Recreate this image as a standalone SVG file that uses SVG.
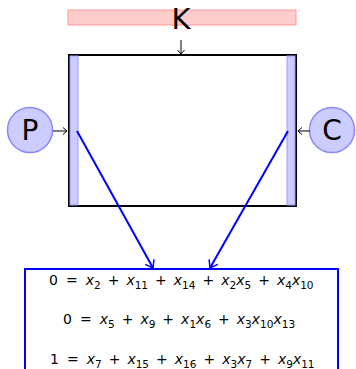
<svg xmlns="http://www.w3.org/2000/svg" width="356" height="369" viewBox="0 0 356 369">
<style>
.lbl{font-family:"DejaVu Sans",sans-serif;fill:#000}
.eq{font-family:"DejaVu Sans",sans-serif;font-size:14px;fill:#000}
.v{font-style:italic}
.s{font-size:10.5px}
.node{fill:#ccccff;stroke:#8888ff;stroke-width:1.5}
.strip{fill:#ccccff;stroke:#9999ff;stroke-width:1}
</style>
<defs>
<marker id="ab" markerUnits="userSpaceOnUse" markerWidth="12" markerHeight="12" refX="0" refY="0" viewBox="-8 -6 10 12" orient="auto" overflow="visible">
<path d="M-7,-5 L0,0 L-7,5" fill="none" stroke="#0000ff" stroke-width="1.5"/>
</marker>
<marker id="ak" markerUnits="userSpaceOnUse" markerWidth="8" markerHeight="8" refX="0" refY="0" viewBox="-5 -4 6 8" orient="auto" overflow="visible">
<path d="M-4,-3.5 L0,0 L-4,3.5" fill="none" stroke="#000" stroke-width="1"/>
</marker>
</defs>
<g id="K">
<rect x="68" y="10" width="228" height="15" fill="#ffcccc" stroke="#ff9999" stroke-width="1"/>
<text class="lbl" x="181" y="29" font-size="29" text-anchor="middle">K</text>
</g>
<g id="main">
<rect x="69" y="55" width="227" height="151" fill="#fff" stroke="#000" stroke-width="2"/>
<rect x="70" y="56" width="8" height="149" class="strip"/>
<rect x="287" y="56" width="8" height="149" class="strip"/>
</g>
<g id="P">
<circle cx="30" cy="130" r="22.5" class="node"/>
<text class="lbl" x="30" y="140" font-size="28" text-anchor="middle">P</text>
</g>
<g id="C">
<circle cx="332" cy="130" r="22.5" class="node"/>
<text class="lbl" x="332" y="140" font-size="28" text-anchor="middle">C</text>
</g>
<g id="eqs">
<rect x="25" y="269" width="313" height="110" fill="#fff" stroke="#0000ff" stroke-width="2"/>
<text class="eq" x="49" y="285">0<tspan dx="8">=</tspan><tspan class="v" dx="8">x</tspan><tspan class="s" dy="3.5">2</tspan><tspan dx="7" dy="-3.5">+</tspan><tspan class="v" dx="7">x</tspan><tspan class="s" dy="3.5">11</tspan><tspan dx="7" dy="-3.5">+</tspan><tspan class="v" dx="7">x</tspan><tspan class="s" dy="3.5">14</tspan><tspan dx="7" dy="-3.5">+</tspan><tspan class="v" dx="7">x</tspan><tspan class="s" dy="3.5">2</tspan><tspan class="v" dy="-3.5">x</tspan><tspan class="s" dy="3.5">5</tspan><tspan dx="7" dy="-3.5">+</tspan><tspan class="v" dx="7">x</tspan><tspan class="s" dy="3.5">4</tspan><tspan class="v" dy="-3.5">x</tspan><tspan class="s" dy="3.5">10</tspan></text>
<text class="eq" x="63" y="324">0<tspan dx="8">=</tspan><tspan class="v" dx="8">x</tspan><tspan class="s" dy="3.5">5</tspan><tspan dx="7" dy="-3.5">+</tspan><tspan class="v" dx="7">x</tspan><tspan class="s" dy="3.5">9</tspan><tspan dx="7" dy="-3.5">+</tspan><tspan class="v" dx="7">x</tspan><tspan class="s" dy="3.5">1</tspan><tspan class="v" dy="-3.5">x</tspan><tspan class="s" dy="3.5">6</tspan><tspan dx="7" dy="-3.5">+</tspan><tspan class="v" dx="7">x</tspan><tspan class="s" dy="3.5">3</tspan><tspan class="v" dy="-3.5">x</tspan><tspan class="s" dy="3.5">10</tspan><tspan class="v" dy="-3.5">x</tspan><tspan class="s" dy="3.5">13</tspan></text>
<text class="eq" x="50" y="364">1<tspan dx="8">=</tspan><tspan class="v" dx="8">x</tspan><tspan class="s" dy="3.5">7</tspan><tspan dx="7" dy="-3.5">+</tspan><tspan class="v" dx="7">x</tspan><tspan class="s" dy="3.5">15</tspan><tspan dx="7" dy="-3.5">+</tspan><tspan class="v" dx="7">x</tspan><tspan class="s" dy="3.5">16</tspan><tspan dx="7" dy="-3.5">+</tspan><tspan class="v" dx="7">x</tspan><tspan class="s" dy="3.5">3</tspan><tspan class="v" dy="-3.5">x</tspan><tspan class="s" dy="3.5">7</tspan><tspan dx="7" dy="-3.5">+</tspan><tspan class="v" dx="7">x</tspan><tspan class="s" dy="3.5">9</tspan><tspan class="v" dy="-3.5">x</tspan><tspan class="s" dy="3.5">11</tspan></text>
</g>
<g id="connectors" fill="none">
<line x1="181" y1="40" x2="181" y2="54" stroke="#000" stroke-width="1" marker-end="url(#ak)"/>
<line x1="53" y1="131" x2="67" y2="131" stroke="#000" stroke-width="1" marker-end="url(#ak)"/>
<line x1="310" y1="131" x2="298" y2="131" stroke="#000" stroke-width="1" marker-end="url(#ak)"/>
<line x1="77" y1="131" x2="153" y2="268" stroke="#0000ff" stroke-width="2" marker-end="url(#ab)"/>
<line x1="288" y1="131" x2="210" y2="268" stroke="#0000ff" stroke-width="2" marker-end="url(#ab)"/>
</g>
</svg>
